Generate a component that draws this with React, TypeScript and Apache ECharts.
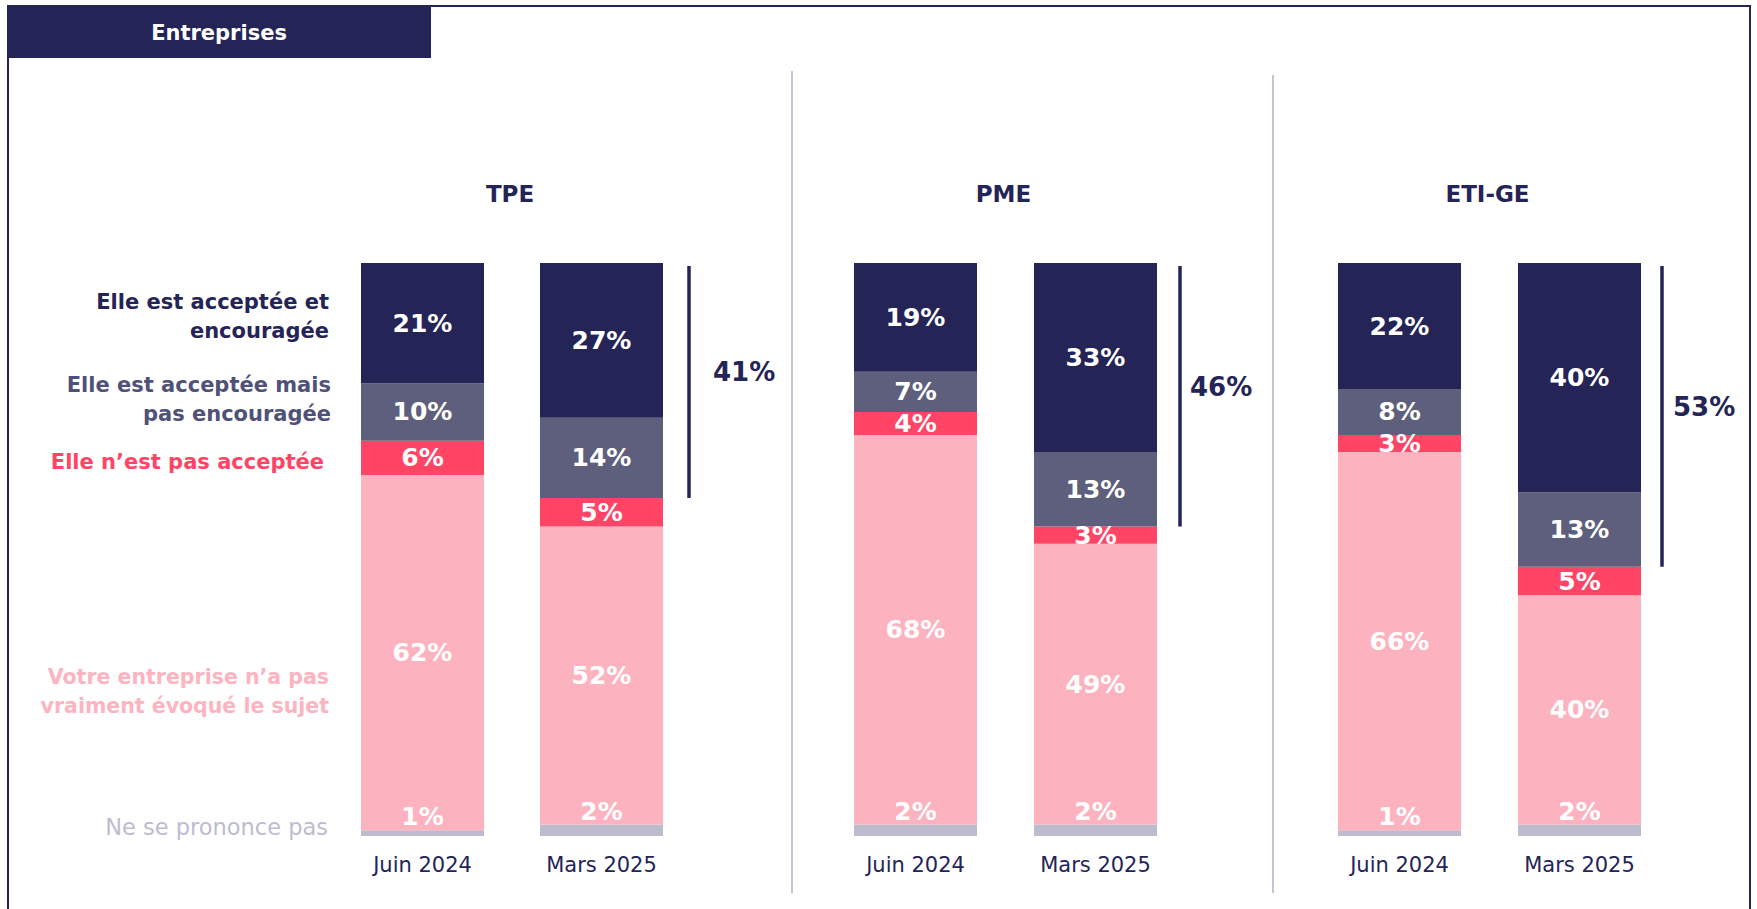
import React, { useEffect, useRef } from "react";
import * as echarts from "echarts";

const groups = ["TPE", "PME", "ETI-GE"];
const periods = ["Juin 2024", "Mars 2025"];
// values per group: [Juin 2024, Mars 2025]
const encouragee = [[21, 27], [19, 33], [22, 40]];
const accepteeMais = [[10, 14], [7, 13], [8, 13]];
const nonAcceptee = [[6, 5], [4, 3], [3, 5]];
const pasEvoque = [[62, 52], [68, 49], [66, 40]];
const nspp = [[1, 2], [2, 2], [1, 2]];
const totals = [41, 46, 53];

const seriesNames = [
  "Ne se prononce pas",
  "Votre entreprise n\u2019a pas vraiment évoqué le sujet",
  "Elle n\u2019est pas acceptée",
  "Elle est acceptée mais pas encouragée",
  "Elle est acceptée et encouragée",
];
const seriesData = [nspp, pasEvoque, nonAcceptee, accepteeMais, encouragee];
const colors = ["#BDBCCE", "#FDB3BF", "#FF4466", "#5E5F7C", "#242456"];

const FONT = "DejaVu Sans";
const NAVY = "#242456";

const gridLefts = [333, 825.5, 1309.5];
const gridWidths = [358, 360, 360];
const bracketOffsets = [87.5, 84.5, 82.5];
const bracketLabelGaps = [24, 10, 11];
const GRID_TOP = 263;
const GRID_BOTTOM = 909 - 836;

export default function App() {
  const ref = useRef<HTMLDivElement>(null);
  useEffect(() => {
    if (!ref.current) return;
    const chart = echarts.init(ref.current, undefined, { renderer: "svg" });

    const grids = groups.map((_, i) => ({
      left: gridLefts[i],
      width: gridWidths[i],
      top: GRID_TOP,
      bottom: GRID_BOTTOM,
    }));
    const xAxes = groups.map((_, i) => ({
      type: "category",
      gridIndex: i,
      data: periods,
      axisLine: { show: false },
      axisTick: { show: false },
      axisLabel: { color: NAVY, fontSize: 21, fontFamily: FONT, margin: 18 },
    }));
    const yAxes = groups.map((_, i) => ({
      type: "value",
      gridIndex: i,
      min: 0,
      max: 100,
      show: false,
      splitLine: { show: false },
    }));

    const series: any[] = [];
    groups.forEach((g, gi) => {
      seriesData.forEach((arr, si) => {
        series.push({
          name: seriesNames[si],
          type: "bar",
          xAxisIndex: gi,
          yAxisIndex: gi,
          stack: "s" + gi,
          barWidth: 123,
          itemStyle: { color: colors[si] },
          label: {
            show: true,
            position: si === 0 ? "top" : "inside",
            distance: si === 0 ? 1 : 5,
            formatter: "{c}%",
            color: "#FFFFFF",
            fontSize: 25,
            fontWeight: "bold",
            fontFamily: FONT,
          },
          data: arr[gi],
        });
      });
      series.push({
        type: "custom",
        xAxisIndex: gi,
        yAxisIndex: gi,
        z: 10,
        renderItem: (params: any, api: any) => {
          const total = api.value(1);
          const top = api.coord([api.value(0), 100]);
          const bot = api.coord([api.value(0), 100 - total]);
          const x = top[0] + bracketOffsets[gi];
          return {
            type: "group",
            children: [
              {
                type: "line",
                shape: { x1: x, y1: top[1] + 3, x2: x, y2: bot[1] },
                style: { stroke: NAVY, lineWidth: 3.5 },
              },
              {
                type: "text",
                x: x + bracketLabelGaps[gi],
                y: (top[1] + bot[1]) / 2 - 8,
                style: {
                  text: total + "%",
                  fill: NAVY,
                  fontSize: 26,
                  fontWeight: "bold",
                  fontFamily: FONT,
                  align: "left",
                  verticalAlign: "middle",
                },
              },
            ],
          };
        },
        data: [[1, totals[gi]]],
      });
    });

    const legendTexts = [
      { t: "Elle est acceptée et", y: 302, c: "#242456", w: "bold", s: 21, x: 329 },
      { t: "encouragée", y: 331, c: "#242456", w: "bold", s: 21, x: 329 },
      { t: "Elle est acceptée mais", y: 385, c: "#505178", w: "bold", s: 21, x: 331 },
      { t: "pas encouragée", y: 414, c: "#505178", w: "bold", s: 21, x: 331 },
      { t: "Elle n\u2019est pas acceptée", y: 462, c: "#FF4466", w: "bold", s: 21, x: 324 },
      { t: "Votre entreprise n\u2019a pas", y: 677, c: "#FDB3C0", w: "bold", s: 20.5, x: 329 },
      { t: "vraiment évoqué le sujet", y: 706, c: "#FDB3C0", w: "bold", s: 20.5, x: 329 },
      { t: "Ne se prononce pas", y: 827, c: "#BDBCCF", w: "normal", s: 22.5, x: 328 },
    ];

    const graphic: any[] = [
      {
        type: "rect",
        shape: { x: 8, y: 6, width: 1742, height: 940 },
        style: { fill: "none", stroke: NAVY, lineWidth: 2 },
        silent: true,
      },
      {
        type: "rect",
        shape: { x: 8, y: 6, width: 423, height: 52 },
        style: { fill: NAVY },
      },
      {
        type: "text",
        x: 219,
        y: 33,
        style: {
          text: "Entreprises",
          fill: "#FFFFFF",
          fontSize: 21,
          fontWeight: "bold",
          fontFamily: FONT,
          align: "center",
          verticalAlign: "middle",
        },
      },
      {
        type: "line",
        shape: { x1: 792, y1: 71, x2: 792, y2: 893 },
        style: { stroke: "#C5C5D5", lineWidth: 2 },
      },
      {
        type: "line",
        shape: { x1: 1273, y1: 75, x2: 1273, y2: 893 },
        style: { stroke: "#C5C5D5", lineWidth: 2 },
      },
      ...groups.map((g, i) => ({
        type: "text",
        x: gridLefts[i] + gridWidths[i] / 2 - 2,
        y: 194,
        style: {
          text: g,
          fill: NAVY,
          fontSize: 23,
          fontWeight: "bold",
          fontFamily: FONT,
          align: "center",
          verticalAlign: "middle",
        },
      })),
      ...legendTexts.map((l) => ({
        type: "text",
        x: l.x,
        y: l.y,
        style: {
          text: l.t,
          fill: l.c,
          fontSize: l.s,
          fontWeight: l.w,
          fontFamily: FONT,
          align: "right",
          verticalAlign: "middle",
        },
      })),
    ];

    chart.setOption({
      animation: false,
      backgroundColor: "#FFFFFF",
      grid: grids,
      xAxis: xAxes,
      yAxis: yAxes,
      series,
      graphic,
    });
    return () => chart.dispose();
  }, []);
  return (
    <div
      ref={ref}
      style={{ position: "fixed", left: 0, top: 0, width: 1757, height: 909 }}
    />
  );
}
